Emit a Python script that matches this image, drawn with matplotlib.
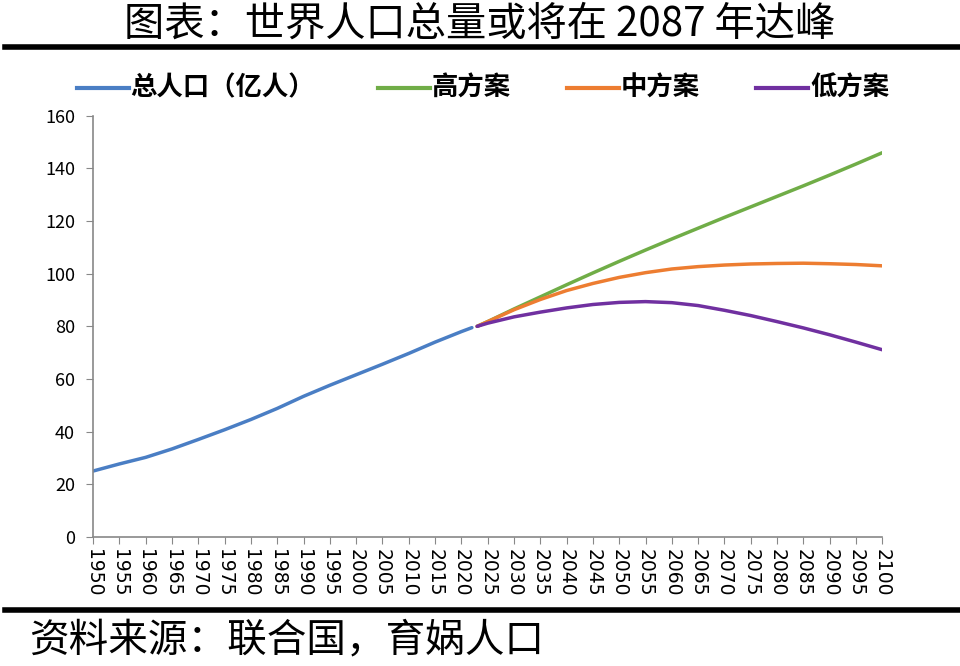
import matplotlib
matplotlib.use("Agg")
import matplotlib.pyplot as plt
from matplotlib.lines import Line2D

plt.rcParams['font.family'] = ['Noto Sans CJK SC', 'DejaVu Sans']

# 历史总人口（亿人）
hist_years = [1950, 1955, 1960, 1965, 1970, 1975, 1980, 1985, 1990, 1995,
              2000, 2005, 2010, 2015, 2020, 2022]
hist_pop = [25.0, 27.7, 30.2, 33.4, 37.0, 40.7, 44.6, 48.8, 53.4, 57.6,
            61.6, 65.6, 69.7, 74.0, 78.0, 79.5]

# 预测（亿人）
proj_years = [2023, 2025, 2030, 2035, 2040, 2045, 2050, 2055, 2060, 2065,
              2070, 2075, 2080, 2085, 2090, 2095, 2100]
high_pop = [80.0, 81.8, 86.6, 91.2, 95.8, 100.3, 104.7, 109.0, 113.2, 117.3,
            121.4, 125.4, 129.4, 133.4, 137.5, 141.7, 146.0]
mid_pop = [80.0, 81.8, 86.3, 90.2, 93.6, 96.3, 98.6, 100.4, 101.8, 102.7,
           103.3, 103.7, 103.9, 104.0, 103.8, 103.5, 103.0]
low_pop = [80.0, 81.2, 83.6, 85.4, 87.0, 88.3, 89.1, 89.4, 89.0, 87.9,
           86.1, 84.1, 81.8, 79.4, 76.8, 74.0, 71.1]

xticks = list(range(1950, 2101, 5))
yticks = [0, 20, 40, 60, 80, 100, 120, 140, 160]

c_blue = '#4A7EC4'
c_green = '#70AD47'
c_orange = '#ED7D31'
c_purple = '#7030A0'

fig = plt.figure(figsize=(9.6, 6.66), dpi=100)
ax = fig.add_axes([0.097, 0.194, 0.822, 0.632])

ax.plot(hist_years, hist_pop, color=c_blue, lw=2.5, solid_capstyle='round')
ax.plot(proj_years, high_pop, color=c_green, lw=2.5, solid_capstyle='round')
ax.plot(proj_years, mid_pop, color=c_orange, lw=2.5, solid_capstyle='round')
ax.plot(proj_years, low_pop, color=c_purple, lw=2.5, solid_capstyle='round')

ax.set_xlim(1950, 2100)
ax.set_ylim(0, 160)
ax.set_xticks(xticks)
ax.set_xticklabels([str(y) for y in xticks], rotation=270, fontsize=13.5,
                   family='DejaVu Sans')
ax.set_yticks(yticks)
ax.set_yticklabels([str(v) for v in yticks], fontsize=13)
ax.tick_params(axis='both', direction='out', length=5, color='#888888',
               pad=4)
ax.tick_params(axis='y', pad=8)
for side in ['top', 'right']:
    ax.spines[side].set_visible(False)
for side in ['left', 'bottom']:
    ax.spines[side].set_color('#888888')
    ax.spines[side].set_linewidth(1.2)

# 标题和横线
fig.text(0.5, 0.963, '图表：世界人口总量或将在 2087 年达峰', ha='center',
         va='center', fontsize=29, fontweight='light')
fig.add_artist(Line2D([0.005, 1.0], [0.929, 0.929], color='black', lw=4))
fig.add_artist(Line2D([0.005, 1.0], [0.084, 0.084], color='black', lw=4))
fig.text(0.03, 0.039, '资料来源：联合国，育娲人口', ha='left', va='center',
         fontsize=28.5, fontweight='light', style='italic')

# 图例
legend_items = [('总人口（亿人）', c_blue, 0.080),
                ('高方案', c_green, 0.394),
                ('中方案', c_orange, 0.591),
                ('低方案', c_purple, 0.788)]
for label, color, x0 in legend_items:
    fig.add_artist(Line2D([x0, x0 + 0.054], [0.868, 0.868], color=color,
                          lw=3))
    fig.text(x0 + 0.056, 0.868, label, ha='left', va='center', fontsize=19,
             fontweight='bold')

fig.savefig('out.png', dpi=100, facecolor='white')
